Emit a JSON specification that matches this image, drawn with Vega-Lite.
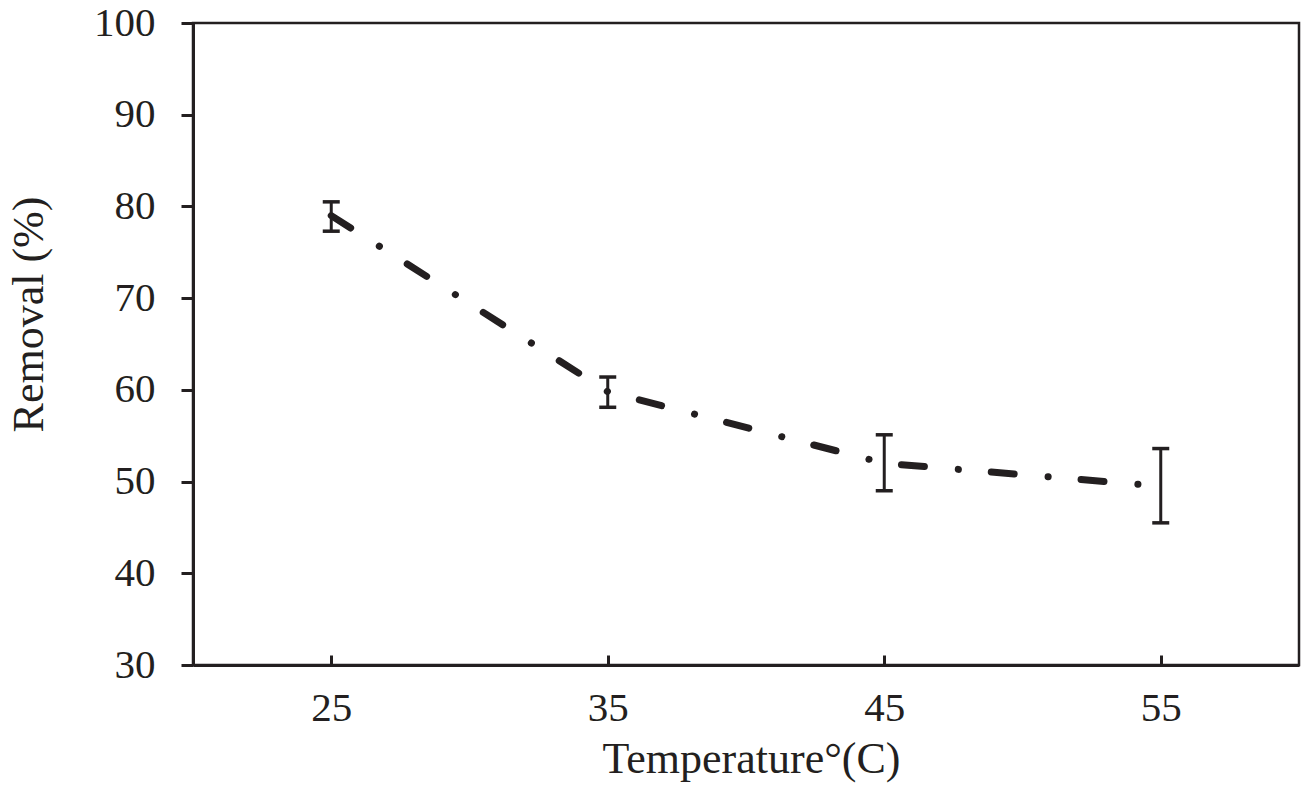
{
  "$schema": "https://vega.github.io/schema/vega-lite/v6.json",
  "autosize": {"type": "none"},
  "width": 1106,
  "height": 642,
  "padding": {"left": 193, "top": 23, "right": 2, "bottom": 131},
  "background": "white",
  "config": {
    "view": {"stroke": "#231f20", "strokeWidth": 2.5},
    "font": "Liberation Serif",
    "axis": {
      "domainColor": "#231f20",
      "domainWidth": 3,
      "tickColor": "#231f20",
      "tickWidth": 3,
      "grid": false,
      "labelFont": "Liberation Serif",
      "labelFontSize": 41,
      "labelColor": "#231f20",
      "titleFont": "Liberation Serif",
      "titleFontSize": 44,
      "titleFontWeight": "normal",
      "titleColor": "#231f20"
    }
  },
  "data": {
    "values": [
      {"temp": 25, "removal": 79.0, "low": 77.3, "high": 80.5},
      {"temp": 35, "removal": 59.8, "low": 58.1, "high": 61.4},
      {"temp": 45, "removal": 52.0, "low": 49.0, "high": 55.1},
      {"temp": 55, "removal": 49.5, "low": 45.5, "high": 53.6}
    ]
  },
  "layer": [
    {
      "mark": {
        "type": "line",
        "color": "#231f20",
        "strokeWidth": 7,
        "strokeCap": "round",
        "strokeDash": [23, 34, 0.1, 33]
      },
      "encoding": {
        "x": {
          "field": "temp",
          "type": "quantitative",
          "scale": {"domain": [20, 60], "nice": false},
          "axis": {
            "values": [25, 35, 45, 55],
            "tickSize": -10,
            "labelBaseline": "alphabetic",
            "labelPadding": 65,
            "title": "Temperature°(C)",
            "titleX": 558,
            "titleY": 107,
            "titleBaseline": "alphabetic",
            "titleAnchor": null
          }
        },
        "y": {
          "field": "removal",
          "type": "quantitative",
          "title": "Removal (%)",
          "scale": {"domain": [30, 100], "nice": false, "zero": false},
          "axis": {
            "values": [30, 40, 50, 60, 70, 80, 90, 100],
            "tickSize": 12,
            "labelPadding": 26,
            "titleAngle": -90,
            "titleX": -151,
            "titleY": 291,
            "titleBaseline": "alphabetic",
            "titleAlign": "center"
          }
        }
      }
    },
    {
      "mark": {
        "type": "errorbar",
        "color": "#231f20",
        "opacity": 1,
        "rule": {"strokeWidth": 3, "color": "#231f20", "opacity": 1},
        "ticks": {"size": 17, "thickness": 3.5, "color": "#231f20", "opacity": 1}
      },
      "encoding": {
        "x": {"field": "temp", "type": "quantitative", "title": "Temperature°(C)"},
        "y": {"field": "low", "type": "quantitative", "title": "Removal (%)"},
        "y2": {"field": "high"}
      }
    }
  ]
}
